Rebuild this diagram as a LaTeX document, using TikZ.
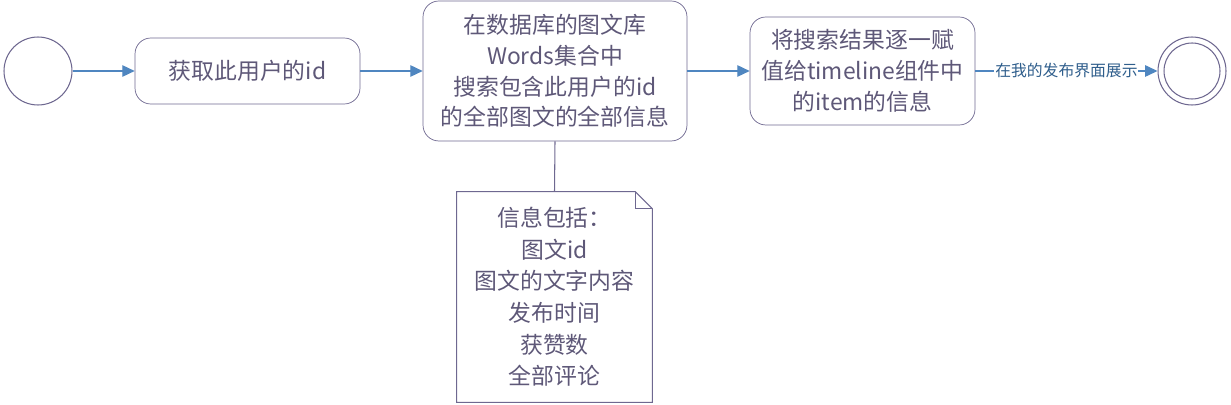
\documentclass[tikz,border=0pt]{standalone}
\usepackage{fontspec}
\setmainfont{Noto Sans CJK SC}
\usetikzlibrary{arrows.meta,positioning,calc}

\definecolor{boxline}{HTML}{6E6890}
\definecolor{boxtext}{HTML}{5E5878}
\definecolor{flowblue}{HTML}{4F86C0}
\definecolor{labelblue}{HTML}{2F5E8C}

\tikzset{
	flowbox/.style={draw=boxline,rounded corners=9pt,align=center,text=boxtext,
		font=\fontsize{13}{17.5}\selectfont,inner sep=2pt},
	notebox/.style={align=center,text=boxtext,font=\fontsize{13}{18}\selectfont,
		minimum width=3.9cm,minimum height=4.2cm},
	flowarrow/.style={-{Triangle[length=7pt,width=6.5pt]},draw=flowblue,line width=0.7pt},
	event/.style={draw=boxline,circle,minimum size=1.36cm,inner sep=0pt,line width=0.6pt}
}

\begin{document}
\begin{tikzpicture}[x=0.02cm,y=-0.02cm]
		\useasboundingbox (0,0) rectangle (1231,405);
		
		\node[event] (start) at (38,71) {};
		
		\node[flowbox,minimum width=4.5cm,minimum height=1.32cm] (get) at (247.5,71) {获取此用户的id};
		
		\node[flowbox,minimum width=5.28cm,minimum height=2.8cm] (search) at (555,71)
		{在数据库的图文库\\Words集合中\\搜索包含此用户的id\\的全部图文的全部信息};
		
		\node[flowbox,minimum width=4.5cm,minimum height=2.16cm] (assign) at (862.5,71)
		{将搜索结果逐一赋\\值给timeline组件中\\的item的信息};
		
		\node[event] (end) at (1192,71) {};
		\node[draw=boxline,circle,minimum size=1.12cm,inner sep=0pt,line width=0.6pt] (endin) at (end) {};
		
		\node[notebox] (info) at (554.5,297)
		{信息包括：\\图文id\\图文的文字内容\\发布时间\\获赞数\\全部评论};
		
		% note outline with folded corner
		\draw[boxline,line width=0.6pt] (info.north west) -- ([xshift=-17*0.02cm]info.north east)
			-- ([yshift=-17*0.02cm]info.north east) -- (info.south east) -- (info.south west) -- cycle;
		\draw[boxline,line width=0.6pt] ([xshift=-17*0.02cm]info.north east)
			|- ([yshift=-17*0.02cm]info.north east);
		
		\draw[flowarrow] (start)--(get);
		\draw[flowarrow] (get)--(search);
		\draw[flowarrow] (search)--(assign);
		\draw[flowarrow] (assign)--node[fill=white,inner sep=0.5pt,text=labelblue,
			font=\fontsize{9}{10}\selectfont] (show) {在我的发布界面展示} (end);
		\draw[boxline,line width=0.6pt] (search.south)--(info.north);
		
	\end{tikzpicture}
\end{document}
